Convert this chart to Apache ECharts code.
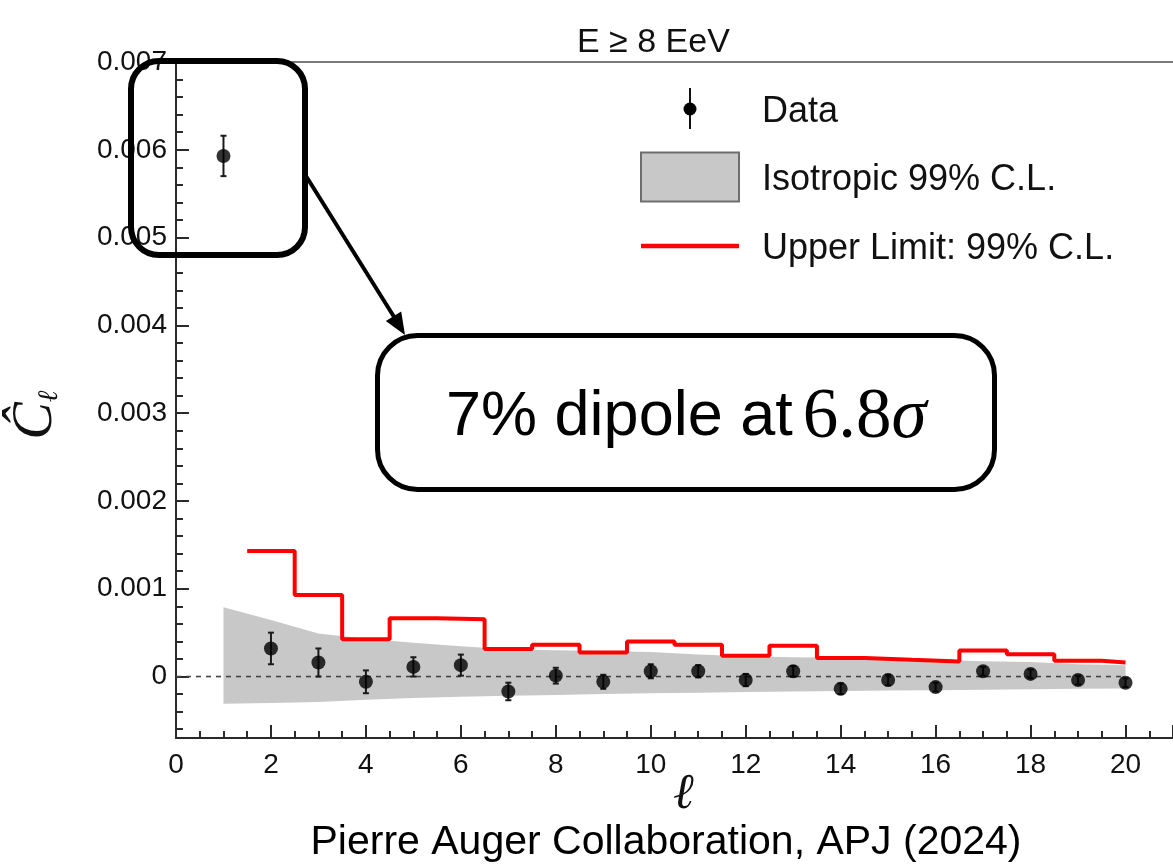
<!DOCTYPE html>
<html>
<head>
<meta charset="utf-8">
<script src="https://cdn.jsdelivr.net/npm/echarts@6/dist/echarts.min.js"></script>
<style>
  html, body { margin: 0; padding: 0; background: #ffffff; }
  #chart { width: 1173px; height: 868px; }
</style>
</head>
<body>
<div id="chart"></div>
<script>
// Angular power spectrum multipoles
const ells = [1, 2, 3, 4, 5, 6, 7, 8, 9, 10, 11, 12, 13, 14, 15, 16, 17, 18, 19, 20];
// Measured C_l and its uncertainty
const clHat = [0.00593, 0.00032, 0.00016, -0.00006, 0.00011, 0.00013, -0.00017, 0.00001, -0.00006, 0.00006,
               0.00006, -0.00004, 0.00006, -0.00014, -0.00004, -0.00012, 0.00006, 0.00003, -0.00004, -0.00007];
const clErr = [0.00023, 0.00018, 0.00016, 0.00013, 0.00011, 0.00012, 0.00010, 0.00009, 0.00008, 0.00008,
               0.00007, 0.00007, 0.00006, 0.00006, 0.00006, 0.00005, 0.00005, 0.00005, 0.00005, 0.00005];
// Isotropic expectation, 99% C.L. band
const isoLow  = [-0.00031, -0.00030, -0.00029, -0.000265, -0.000245, -0.00023, -0.00022, -0.00021, -0.00020, -0.00019,
                 -0.000185, -0.000175, -0.00017, -0.000165, -0.00016, -0.000155, -0.00015, -0.000145, -0.00014, -0.000135];
const isoHigh = [0.00079, 0.000645, 0.00049, 0.00043, 0.000385, 0.000345, 0.00031, 0.00030, 0.00029, 0.00028,
                 0.00025, 0.00023, 0.00022, 0.000215, 0.00020, 0.00019, 0.000175, 0.000165, 0.00014, 0.00013];
// 99% C.L. upper limits (l >= 2)
const ulEll = [2, 3, 4, 5, 6, 7, 8, 9, 10, 11, 12, 13, 14, 15, 16, 17, 18, 19, 20];
const upperLimit = [0.00143, 0.00093, 0.000426, 0.000665, 0.000653, 0.000315, 0.000361, 0.000274, 0.000399, 0.000361,
                    0.000236, 0.00035, 0.00021, 0.00019, 0.000171, 0.000296, 0.000255, 0.000179, 0.00016];
// Legend entries
const legendLabels = ['Data', 'Isotropic 99% C.L.', 'Upper Limit: 99% C.L.'];

const SANS = "'Liberation Sans', Arial, Helvetica, sans-serif";
const SERIF = "'Liberation Serif', 'Times New Roman', serif";
const AXIS_COLOR = '#2a2a2a';
const BAND_COLOR = '#c8c8c8';

// histogram-style steps: each upper limit spans l-0.5 .. l+0.5, the last bin is cut at l_max
const ulSteps = ulEll.map((l, i) => [l - 0.5, upperLimit[i]]);
ulSteps.push([ulEll[ulEll.length - 1], upperLimit[upperLimit.length - 1]]);

const chart = echarts.init(document.getElementById('chart'), null, { renderer: 'canvas' });

// legend drawn as plain graphics: icon column + label column
const LEG_X = 641, LEG_W = 98, LEG_Y = [109, 177, 246], LEG_TX = 762;
const legendGraphics = [
  { type: 'line', z: 90, shape: { x1: LEG_X + LEG_W / 2, y1: LEG_Y[0] - 21, x2: LEG_X + LEG_W / 2, y2: LEG_Y[0] + 20 },
    style: { stroke: '#111', lineWidth: 2 } },
  { type: 'circle', z: 90, shape: { cx: LEG_X + LEG_W / 2, cy: LEG_Y[0], r: 6.5 }, style: { fill: '#000' } },
  { type: 'rect', z: 90, shape: { x: LEG_X, y: LEG_Y[1] - 24.5, width: LEG_W, height: 49 },
    style: { fill: BAND_COLOR, stroke: '#6e6e6e', lineWidth: 2 } },
  { type: 'line', z: 90, shape: { x1: LEG_X, y1: LEG_Y[2], x2: LEG_X + LEG_W, y2: LEG_Y[2] },
    style: { stroke: '#ff0000', lineWidth: 4.5 } }
].concat(legendLabels.map((t, i) => ({
  type: 'text', z: 90, x: LEG_TX, y: LEG_Y[i] + 3,
  style: { text: t, fontFamily: SANS, fontSize: 36, fill: '#111', align: 'left', verticalAlign: 'middle' }
})));

const option = {
  animation: false,
  backgroundColor: '#ffffff',
  title: {
    text: 'E \u2265 8 EeV',
    left: 577,
    top: 26,
    padding: 0,
    textStyle: { fontFamily: SANS, fontSize: 34, fontWeight: 'normal', color: '#111' }
  },
  grid: { left: 174, right: 0, top: 62, bottom: 130, containLabel: false },
  xAxis: [
    {
      type: 'value',
      min: 0,
      max: 21,
      interval: 2,
      name: '\u2113',
      nameLocation: 'middle',
      nameGap: 32,
      nameMoveOverlap: false,
      nameTextStyle: { fontFamily: "'DejaVu Serif', serif", fontStyle: 'italic', fontSize: 50, color: '#111', padding: [0, 0, 0, 18] },
      axisLine: { show: true, onZero: false, lineStyle: { color: AXIS_COLOR, width: 2 } },
      axisTick: { show: true, inside: true, length: 13, lineStyle: { color: AXIS_COLOR, width: 2 } },
      minorTick: { show: true, splitNumber: 4, length: 7, lineStyle: { color: AXIS_COLOR, width: 2 } },
      splitLine: { show: false },
      axisLabel: { showMaxLabel: false, fontFamily: SANS, fontSize: 28, color: '#111', margin: 13 }
    },
    {
      type: 'value',
      position: 'top',
      min: 0,
      max: 21,
      axisLine: { show: true, onZero: false, lineStyle: { color: '#7a7a7a', width: 2 } },
      axisTick: { show: false },
      axisLabel: { show: false },
      splitLine: { show: false }
    }
  ],
  yAxis: {
    type: 'value',
    min: -0.0007,
    max: 0.007,
    splitNumber: 8,
    name: '{c|\u0108}{l|\u2113}',
    nameLocation: 'middle',
    nameRotate: 90,
    nameGap: 112,
    nameMoveOverlap: false,
    nameTextStyle: {
      padding: [0, 30, 0, 0],
      rich: {
        c: { fontFamily: SERIF, fontStyle: 'italic', fontSize: 56, color: '#111' },
        l: { fontFamily: "'DejaVu Serif', serif", fontStyle: 'italic', fontSize: 28, color: '#111', verticalAlign: 'bottom' }
      }
    },
    axisLine: { show: true, onZero: false, lineStyle: { color: AXIS_COLOR, width: 2 } },
    axisTick: { show: true, inside: true, length: 13, lineStyle: { color: AXIS_COLOR, width: 2 } },
    minorTick: { show: true, splitNumber: 5, length: 7, lineStyle: { color: AXIS_COLOR, width: 2 } },
    splitLine: { show: false },
    axisLabel: { showMinLabel: false, fontFamily: SANS, fontSize: 28, color: '#111', margin: 9 }
  },
  series: [
    {
      // isotropic band: one polygon through the upper edge and back along the lower edge
      name: 'Isotropic 99% C.L.',
      type: 'custom',
      data: ells.map((l, i) => [l, isoLow[i], isoHigh[i]]),
      encode: { x: 0, y: [1, 2] },
      renderItem: function (params, api) {
        if (params.dataIndex !== 0) return null;
        const upper = ells.map((l, i) => api.coord([l, isoHigh[i]]));
        const lower = ells.map((l, i) => api.coord([l, isoLow[i]])).reverse();
        return { type: 'polygon', shape: { points: upper.concat(lower) }, style: { fill: BAND_COLOR } };
      },
      silent: true,
      z: 1
    },
    {
      name: 'zero',
      type: 'line',
      data: [[0, 0], [ells[ells.length - 1], 0]],
      symbol: 'none',
      lineStyle: { color: '#444', width: 1.6, type: [5, 5] },
      silent: true,
      z: 2
    },
    {
      name: 'Upper Limit: 99% C.L.',
      type: 'line',
      data: ulSteps,
      step: 'end',
      symbol: 'none',
      color: '#ff0000',
      lineStyle: { color: '#ff0000', width: 4 },
      silent: true,
      z: 3
    },
    {
      name: 'Data',
      type: 'custom',
      data: ells.map((l, i) => [l, clHat[i], clErr[i]]),
      encode: { x: 0, y: 1 },
      renderItem: function (params, api) {
        const x = api.value(0), y = api.value(1), e = api.value(2);
        const top = api.coord([x, y + e]);
        const bot = api.coord([x, y - e]);
        const cap = 3;
        const st = { stroke: '#1a1a1a', lineWidth: 2 };
        return {
          type: 'group',
          children: [
            { type: 'line', shape: { x1: top[0], y1: top[1], x2: bot[0], y2: bot[1] }, style: st },
            { type: 'line', shape: { x1: top[0] - cap, y1: top[1], x2: top[0] + cap, y2: top[1] }, style: st },
            { type: 'line', shape: { x1: bot[0] - cap, y1: bot[1], x2: bot[0] + cap, y2: bot[1] }, style: st }
          ]
        };
      },
      silent: true,
      z: 4
    },
    {
      name: 'Data',
      type: 'scatter',
      data: ells.map((l, i) => [l, clHat[i]]),
      symbol: 'circle',
      symbolSize: 14,
      itemStyle: { color: '#000' },
      silent: true,
      z: 5
    }
  ],
  graphic: legendGraphics.concat([
    // highlight box around the dipole
    {
      type: 'rect', z: 100,
      shape: { x: 131, y: 61, width: 174, height: 194, r: 28 },
      style: { fill: 'transparent', stroke: '#000', lineWidth: 6 }
    },
    // arrow towards the annotation
    {
      type: 'line', z: 100,
      shape: { x1: 306, y1: 176, x2: 396, y2: 320 },
      style: { stroke: '#000', lineWidth: 4 }
    },
    {
      type: 'polygon', z: 100,
      shape: { points: [[405, 335], [385.8, 320.9], [401.2, 311.5]] },
      style: { fill: '#000' }
    },
    // annotation callout
    {
      type: 'rect', z: 100,
      shape: { x: 377.5, y: 335.5, width: 617, height: 154, r: 40 },
      style: { fill: '#ffffff', stroke: '#000', lineWidth: 5 }
    },
    {
      type: 'text', z: 101,
      x: 446, y: 418,
      style: {
        text: '{s|7% dipole at}{n|6.8}{g|\u03c3}',
        verticalAlign: 'middle',
        align: 'left',
        rich: {
          s: { fontFamily: SANS, fontSize: 63, fill: '#000' },
          n: { fontFamily: SERIF, fontSize: 71, fill: '#000', padding: [0, 0, 0, 10] },
          g: { fontFamily: SERIF, fontStyle: 'italic', fontSize: 71, fill: '#000' }
        }
      }
    },
    // reference caption
    {
      type: 'text', z: 101,
      x: 666, y: 843,
      style: {
        text: 'Pierre Auger Collaboration, APJ (2024)',
        fontFamily: SANS, fontSize: 41, fill: '#000',
        align: 'center', verticalAlign: 'middle'
      }
    }
  ])
};

chart.setOption(option);
</script>
</body>
</html>
